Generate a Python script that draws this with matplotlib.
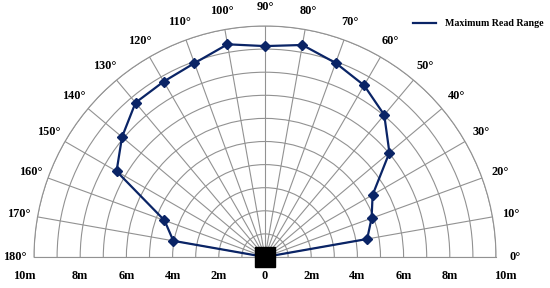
import numpy as np
import matplotlib
matplotlib.use("Agg")
import matplotlib.pyplot as plt

# read range (m) per angle, 10..170 deg; line closes at the reader (origin)
angles_deg = [0, 10, 20, 30, 40, 50, 60, 70, 80, 90, 100, 110, 120, 130, 140, 150, 160, 170, 180]
read_range = [0, 4.49, 4.91, 5.38, 7.03, 8.03, 8.58, 8.94, 9.32, 9.13, 9.35,
              8.93, 8.77, 8.72, 8.08, 7.42, 4.63, 4.03, 0]
radial_ticks = [2, 4, 6, 8, 10]
angle_ticks = list(range(0, 181, 10))

plt.rcParams["font.family"] = ["Liberation Serif", "DejaVu Serif"]
plt.rcParams["font.weight"] = "bold"

navy = "#0a2466"
grid_grey = "#929292"

fig = plt.figure(figsize=(5.5, 2.88), dpi=100)
# half-wedge sits centred in a square box: box is 462 px square around the wedge
ax = fig.add_axes([34 / 550, (288 - 372.5) / 288, 462 / 550, 462 / 288], projection="polar")
ax.set_thetamin(0)
ax.set_thetamax(180)
ax.set_ylim(0, 10)

ax.set_thetagrids(angle_ticks, [f"{a}°" for a in angle_ticks],
                  fontsize=8.8, fontweight="bold")
ax.set_rgrids(range(1, 11), labels=[])
ax.tick_params(axis="x", pad=3)
ax.grid(True, color=grid_grey, linewidth=0.8)
for sp in ax.spines.values():
    sp.set_color(grid_grey)
    sp.set_linewidth(0.8)

theta = np.deg2rad(angles_deg)
line, = ax.plot(theta, read_range, color=navy, linewidth=1.6,
                marker="D", markersize=5.5, markevery=list(range(1, len(theta) - 1)),
                label="Maximum Read Range", zorder=3)

# the reader at the origin
ax.plot([0], [0], marker="s", markersize=14, color="black", clip_on=False, zorder=4)

# distance labels along the base line, both sides (outer ones nudged outward)
for r in radial_ticks:
    nudge = 7 if r == 10 else 0
    for t, sign in ((0, 1), (np.pi, -1)):
        ax.annotate(f"{r}m", xy=(t, r), xytext=(sign * nudge, -14), textcoords="offset points",
                    ha="center", va="center", fontsize=8.8, fontweight="bold",
                    annotation_clip=False)
ax.annotate("0", xy=(0, 0), xytext=(0, -14), textcoords="offset points",
            ha="center", va="center", fontsize=8.8, fontweight="bold",
            annotation_clip=False)

fig.legend(handles=[line.__class__([], [], color=navy, linewidth=1.6)],
           labels=["Maximum Read Range"], loc="center left",
           bbox_to_anchor=(413 / 550, 1 - 24 / 288), frameon=False,
           borderpad=0, borderaxespad=0, handlelength=2.3, handletextpad=0.9,
           prop={"size": 7.2, "weight": "bold"})

fig.savefig("out.png", dpi=100)
